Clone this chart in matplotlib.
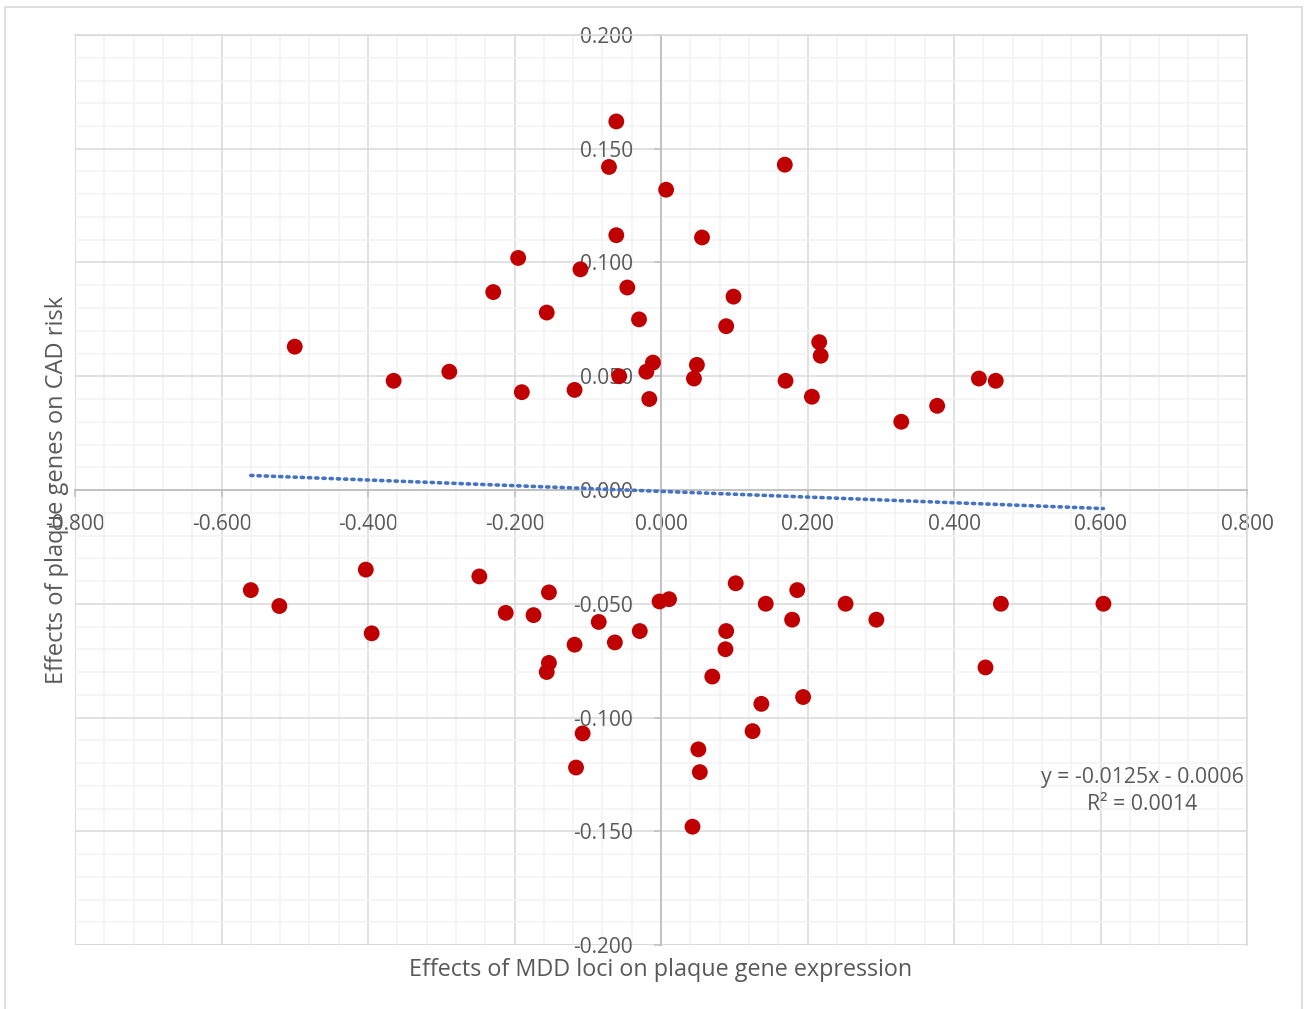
import numpy as np
import matplotlib.pyplot as plt
from matplotlib.patches import Rectangle
from matplotlib.ticker import MultipleLocator, FormatStrFormatter

plt.rcParams.update({"font.family": ["Open Sans", "DejaVu Sans"]})

# effects of MDD loci on plaque gene expression (x) vs plaque genes on CAD risk (y)
x_vals = [
    -0.061, -0.071, 0.007, 0.169, -0.061, 0.056, -0.195, -0.110, -0.229, -0.046,
    0.099, -0.156, -0.030, 0.089, -0.500, 0.216, 0.218, -0.011, 0.049, -0.057,
    -0.020, -0.289, -0.365, 0.045, 0.170, 0.434, 0.457, -0.190, -0.118, -0.016,
    0.206, 0.377, 0.328,
    -0.560, -0.521, -0.403, -0.395, -0.248, -0.153, -0.212, -0.174, -0.085, -0.002,
    0.011, -0.029, -0.118, -0.063, -0.153, -0.156, -0.107, -0.116, 0.102, 0.143,
    0.186, 0.179, 0.252, 0.294, 0.089, 0.088, 0.070, 0.137, 0.194, 0.125,
    0.051, 0.053, 0.043, 0.464, 0.604, 0.443,
]
y_vals = [
    0.162, 0.142, 0.132, 0.143, 0.112, 0.111, 0.102, 0.097, 0.087, 0.089,
    0.085, 0.078, 0.075, 0.072, 0.063, 0.065, 0.059, 0.056, 0.055, 0.050,
    0.052, 0.052, 0.048, 0.049, 0.048, 0.049, 0.048, 0.043, 0.044, 0.040,
    0.041, 0.037, 0.030,
    -0.044, -0.051, -0.035, -0.063, -0.038, -0.045, -0.054, -0.055, -0.058, -0.049,
    -0.048, -0.062, -0.068, -0.067, -0.076, -0.080, -0.107, -0.122, -0.041, -0.050,
    -0.044, -0.057, -0.050, -0.057, -0.062, -0.070, -0.082, -0.094, -0.091, -0.106,
    -0.114, -0.124, -0.148, -0.050, -0.050, -0.078,
]

# trendline as reported on the chart
slope = -0.0125
intercept = -0.0006
r2 = 0.0014

grey = "#595959"

fig = plt.figure(figsize=(13.05, 10.09), dpi=100)
ax = fig.add_axes([75 / 1305, 1 - 945 / 1009, 1172 / 1305, 910 / 1009])

ax.set_xlim(-0.8, 0.8)
ax.set_ylim(-0.2, 0.2)

ax.xaxis.set_major_locator(MultipleLocator(0.2))
ax.xaxis.set_minor_locator(MultipleLocator(0.04))
ax.yaxis.set_major_locator(MultipleLocator(0.05))
ax.yaxis.set_minor_locator(MultipleLocator(0.01))
ax.xaxis.set_major_formatter(FormatStrFormatter("%.3f"))
ax.yaxis.set_major_formatter(FormatStrFormatter("%.3f"))

ax.grid(which="minor", color="#F2F2F2", lw=1.1, zorder=0)
ax.grid(which="major", color="#D9D9D9", lw=1.1, zorder=0)
ax.set_axisbelow(True)

for s in ["top", "right"]:
    ax.spines[s].set_color("#D9D9D9")
    ax.spines[s].set_linewidth(1.1)
ax.spines["left"].set_position(("data", 0))
ax.spines["bottom"].set_position(("data", 0))
for s in ["left", "bottom"]:
    ax.spines[s].set_color("#BFBFBF")
    ax.spines[s].set_linewidth(1.3)

# frame lines at the plot limits
ax.axvline(-0.8, color="#D9D9D9", lw=1.1, zorder=0)
ax.axhline(-0.2, color="#D9D9D9", lw=1.1, zorder=0)

ax.tick_params(which="major", direction="out", length=5, width=1.1, color="#BFBFBF",
               labelsize=15, labelcolor=grey)
ax.tick_params(axis="y", which="major", pad=15)
ax.tick_params(axis="x", which="major", pad=12)
ax.tick_params(which="minor", length=0)

ax.scatter(x_vals, y_vals, s=130, color="#C00000", edgecolors="none", zorder=3)

xs = np.array([min(x_vals), max(x_vals)])
ax.plot(xs, slope * xs + intercept, linestyle=(0, (0.6, 1.4)), color="#4472C4",
        lw=2.6, dash_capstyle="round", zorder=4)

fig.text(1142 / 1305, 1 - 791 / 1009,
         f"y = {slope:.4f}x - {abs(intercept):.4f}\nR² = {r2:.4f}",
         ha="center", va="center", multialignment="center", fontsize=15.3,
         color=grey, linespacing=1.4)

ax.set_xlabel("Effects of MDD loci on plaque gene expression", fontsize=16.8, color=grey)
ax.set_ylabel("Effects of plaque genes on CAD risk", fontsize=17, color=grey)
ax.xaxis.set_label_coords(0.5, -0.014)
ax.yaxis.set_label_coords(-0.005, 0.5)

# outer chart border
fig.patches.append(Rectangle((5 / 1305, -0.01), 1297 / 1305, 1 - 7 / 1009 + 0.01,
                             transform=fig.transFigure, fill=False,
                             edgecolor="#D9D9D9", lw=1.2))

fig.savefig("out.png", dpi=100)
